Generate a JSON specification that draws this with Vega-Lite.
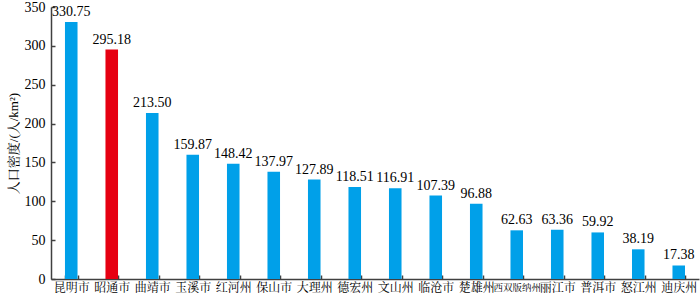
{
  "$schema": "https://vega.github.io/schema/vega-lite/v6.json",
  "width": 648,
  "height": 272,
  "autosize": {"type": "none"},
  "padding": {"left": 51, "top": 7, "right": 1, "bottom": 15},
  "config": {
    "view": {"stroke": null},
    "font": "Liberation Serif, Noto Serif CJK SC, Noto Sans CJK SC",
    "axis": {
      "domainColor": "#404040",
      "domainWidth": 1.5,
      "tickColor": "#404040",
      "tickWidth": 1.5,
      "grid": false,
      "labelColor": "#000000",
      "titleColor": "#000000",
      "labelFont": "Liberation Serif, Noto Serif CJK SC, Noto Sans CJK SC",
      "titleFont": "Liberation Serif, Noto Serif CJK SC, Noto Sans CJK SC"
    }
  },
  "data": {
    "values": [
      {"region": "昆明市", "density": 330.75, "highlight": "no"},
      {"region": "昭通市", "density": 295.18, "highlight": "yes"},
      {"region": "曲靖市", "density": 213.50, "highlight": "no"},
      {"region": "玉溪市", "density": 159.87, "highlight": "no"},
      {"region": "红河州", "density": 148.42, "highlight": "no"},
      {"region": "保山市", "density": 137.97, "highlight": "no"},
      {"region": "大理州", "density": 127.89, "highlight": "no"},
      {"region": "德宏州", "density": 118.51, "highlight": "no"},
      {"region": "文山州", "density": 116.91, "highlight": "no"},
      {"region": "临沧市", "density": 107.39, "highlight": "no"},
      {"region": "楚雄州", "density": 96.88, "highlight": "no"},
      {"region": "西双版纳州", "density": 62.63, "highlight": "no"},
      {"region": "丽江市", "density": 63.36, "highlight": "no"},
      {"region": "普洱市", "density": 59.92, "highlight": "no"},
      {"region": "怒江州", "density": 38.19, "highlight": "no"},
      {"region": "迪庆州", "density": 17.38, "highlight": "no"}
    ]
  },
  "encoding": {
    "x": {
      "field": "region",
      "type": "nominal",
      "sort": null,
      "scale": {"paddingInner": 0.69, "paddingOuter": 0.345},
      "axis": {
        "title": null,
        "labelAngle": 0,
        "labelFontSize": {"condition": {"test": "datum.value == '西双版纳州'", "value": 9.5}, "value": 12},
        "labelPadding": 7,
        "tickSize": -4,
        "tickBand": "extent",
        "labelBaseline": "top"
      }
    },
    "y": {
      "field": "density",
      "type": "quantitative",
      "scale": {"domain": [0, 350], "nice": false},
      "axis": {
        "title": "人口密度/(人/km²)",
        "titleFontSize": 13,
        "titleFontWeight": "normal",
        "titlePadding": 4,
        "values": [0, 50, 100, 150, 200, 250, 300, 350],
        "labelFontSize": 14,
        "labelPadding": 10,
        "tickSize": -4
      }
    }
  },
  "layer": [
    {
      "mark": {"type": "bar"},
      "encoding": {
        "color": {
          "field": "highlight",
          "type": "nominal",
          "scale": {"domain": ["no", "yes"], "range": ["#00a0e9", "#e60012"]},
          "legend": null
        }
      }
    },
    {
      "mark": {"type": "text", "baseline": "bottom", "dy": -3, "fontSize": 14, "font": "Liberation Serif", "color": "#000000"},
      "encoding": {
        "text": {"field": "density", "type": "quantitative", "format": ".2f"}
      }
    }
  ]
}
